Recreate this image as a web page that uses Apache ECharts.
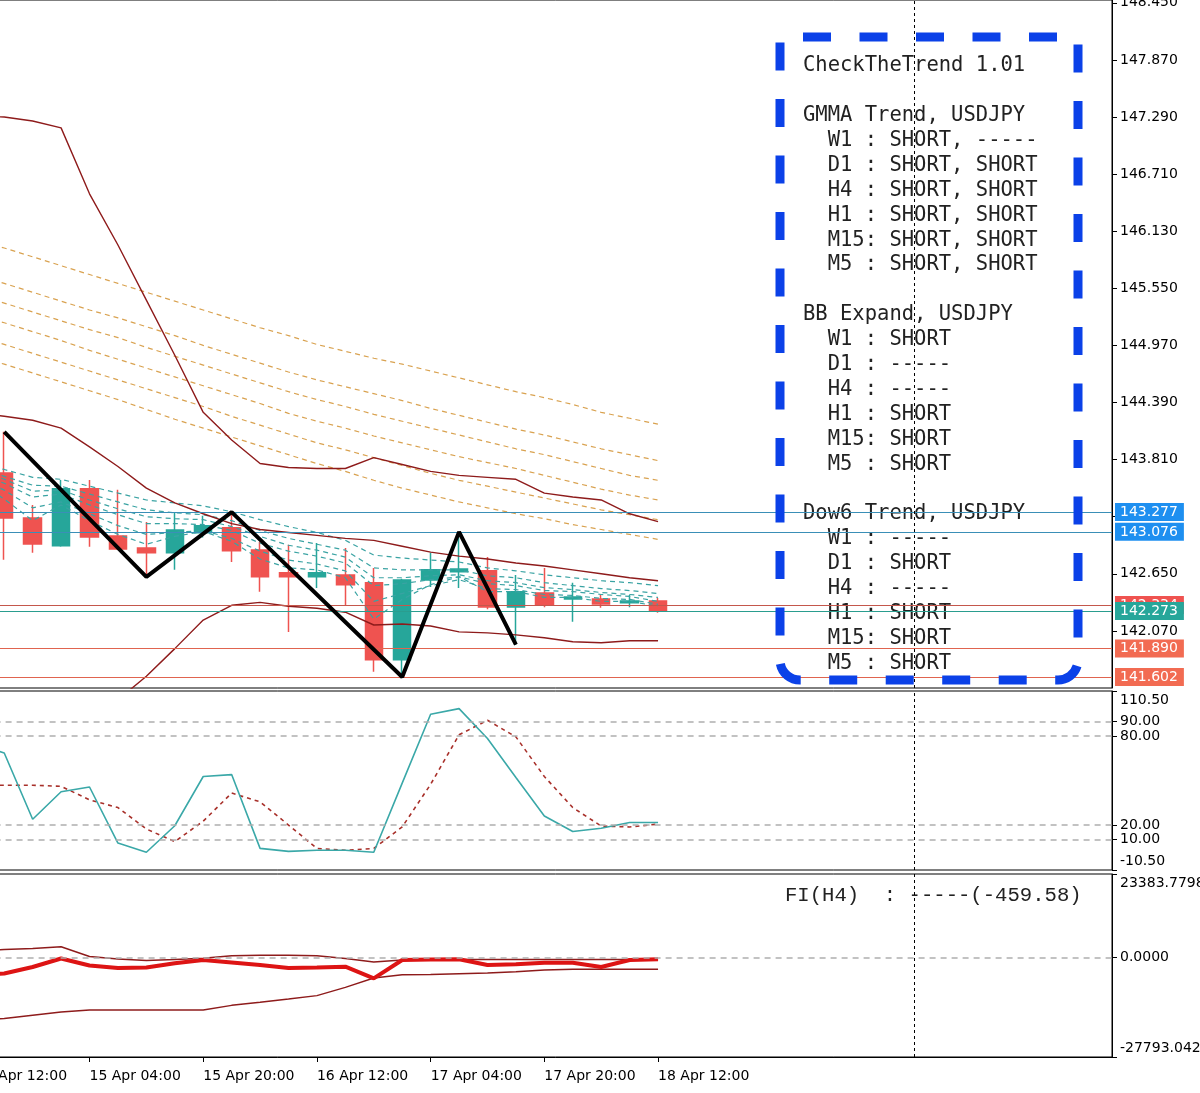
<!DOCTYPE html>
<html>
<head>
<meta charset="utf-8">
<title>USDJPY H4 - CheckTheTrend</title>
<script src="https://cdn.jsdelivr.net/npm/echarts@6/dist/echarts.min.js"></script>
<style>
  html, body { margin: 0; padding: 0; background: #fff; }
  #chart { width: 1200px; height: 1093px; }
</style>
</head>
<body>
<div id="chart"></div>
<script>
// H4 bars, index 0 is just off the left edge
const times = ['14 Apr 12:00', '14 Apr 16:00', '14 Apr 20:00', '15 Apr 00:00', '15 Apr 04:00', '15 Apr 08:00',
    '15 Apr 12:00', '15 Apr 16:00', '15 Apr 20:00', '16 Apr 00:00', '16 Apr 04:00', '16 Apr 08:00',
    '16 Apr 12:00', '16 Apr 16:00', '16 Apr 20:00', '17 Apr 00:00', '17 Apr 04:00', '17 Apr 08:00',
    '17 Apr 12:00', '17 Apr 16:00', '17 Apr 20:00', '18 Apr 00:00', '18 Apr 04:00', '18 Apr 08:00', '18 Apr 12:00'];
const labelIdx = [0, 4, 8, 12, 16, 20, 24];

// candles
const opens = [null, 143.675, 143.218, 142.934, 143.513, 143.035, 142.913, 142.863, 143.066, 143.117, 142.893, 142.660, 142.619,
    142.639, 142.558, 141.776, 142.588, 142.670, 142.680, 142.314, 142.456, 142.395, 142.395, 142.355, 142.375];
const closes = [null, 143.218, 142.954, 143.513, 143.025, 142.903, 142.863, 143.096, 143.137, 142.883, 142.619, 142.619, 142.660,
    142.538, 141.776, 142.588, 142.690, 142.700, 142.314, 142.467, 142.334, 142.415, 142.344, 142.375, 142.273];
const lows = [null, 142.792, 142.863, 142.924, 142.924, 142.893, 142.619, 142.690, 143.020, 142.771, 142.467, 142.060, 142.507,
    142.334, 141.654, 141.602, 142.517, 142.507, 142.290, 141.930, 142.310, 142.162, 142.304, 142.310, 142.255];
const highs = [null, 144.092, 143.350, 143.604, 143.604, 143.503, 143.177, 143.269, 143.240, 143.277, 142.974, 142.944, 142.964,
    142.913, 142.710, 142.600, 142.863, 143.076, 142.822, 142.639, 142.710, 142.558, 142.436, 142.436, 142.405];

// bollinger bands
const bbUpper = [147.30, 147.29, 147.25, 147.18, 146.51, 145.99, 145.43, 144.87, 144.29, 144.01, 143.77, 143.73, 143.72,
    143.72, 143.83, 143.76, 143.69, 143.65, 143.63, 143.61, 143.47, 143.43, 143.40, 143.26, 143.18];
const bbMid = [144.29, 144.25, 144.21, 144.13, 143.94, 143.74, 143.52, 143.37, 143.26, 143.16, 143.10, 143.07, 143.04,
    143.01, 142.99, 142.93, 142.87, 142.83, 142.80, 142.76, 142.73, 142.69, 142.65, 142.61, 142.58];
const bbLower = [141.29, 141.24, 141.19, 141.09, 141.25, 141.37, 141.61, 141.89, 142.18, 142.33, 142.36, 142.32, 142.30,
    142.26, 142.13, 142.14, 142.12, 142.06, 142.05, 142.03, 142.00, 141.96, 141.95, 141.97, 141.97];

// GMMA long group
const gmmaL1 = [146.04, 145.96, 145.87, 145.78, 145.69, 145.60, 145.51, 145.42, 145.33, 145.24, 145.15, 145.07, 144.98,
    144.91, 144.84, 144.78, 144.71, 144.64, 144.57, 144.50, 144.44, 144.37, 144.29, 144.23, 144.17];
const gmmaL2 = [145.69, 145.60, 145.51, 145.42, 145.33, 145.25, 145.16, 145.07, 144.97, 144.88, 144.79, 144.70, 144.62,
    144.55, 144.48, 144.41, 144.33, 144.26, 144.19, 144.12, 144.06, 143.99, 143.92, 143.86, 143.80];
const gmmaL3 = [145.48, 145.40, 145.31, 145.22, 145.13, 145.05, 144.95, 144.86, 144.77, 144.68, 144.59, 144.50, 144.42,
    144.35, 144.27, 144.20, 144.13, 144.06, 143.99, 143.92, 143.86, 143.79, 143.72, 143.65, 143.60];
const gmmaL4 = [145.28, 145.20, 145.11, 145.02, 144.92, 144.83, 144.74, 144.65, 144.56, 144.47, 144.38, 144.28, 144.20,
    144.13, 144.05, 143.98, 143.91, 143.84, 143.78, 143.72, 143.65, 143.58, 143.51, 143.45, 143.40];
const gmmaL5 = [145.07, 144.98, 144.89, 144.80, 144.71, 144.62, 144.53, 144.44, 144.35, 144.25, 144.16, 144.07, 143.98,
    143.91, 143.83, 143.75, 143.67, 143.60, 143.54, 143.48, 143.42, 143.36, 143.30, 143.25, 143.20];
const gmmaL6 = [144.86, 144.78, 144.69, 144.60, 144.51, 144.42, 144.32, 144.22, 144.13, 144.04, 143.95, 143.86, 143.77,
    143.69, 143.60, 143.52, 143.45, 143.38, 143.32, 143.26, 143.21, 143.15, 143.10, 143.05, 143.00];

// GMMA short group
const gmmaS1 = [143.60, 143.41, 143.19, 143.35, 143.19, 143.05, 142.95, 143.03, 143.08, 142.98, 142.80, 142.71, 142.69,
    142.61, 142.19, 142.39, 142.54, 142.62, 142.47, 142.47, 142.41, 142.41, 142.37, 142.37, 142.32];
const gmmaS2 = [143.63, 143.50, 143.32, 143.38, 143.26, 143.14, 143.05, 143.07, 143.09, 143.01, 142.88, 142.79, 142.75,
    142.68, 142.37, 142.45, 142.53, 142.59, 142.50, 142.49, 142.44, 142.43, 142.40, 142.39, 142.34];
const gmmaS3 = [143.67, 143.57, 143.43, 143.46, 143.35, 143.25, 143.16, 143.16, 143.15, 143.09, 142.96, 142.88, 142.83,
    142.76, 142.53, 142.55, 142.59, 142.62, 142.55, 142.53, 142.48, 142.47, 142.44, 142.42, 142.37];
const gmmaS4 = [143.71, 143.61, 143.49, 143.50, 143.40, 143.31, 143.23, 143.21, 143.20, 143.13, 143.03, 142.94, 142.89,
    142.82, 142.61, 142.61, 142.63, 142.64, 142.58, 142.56, 142.51, 142.49, 142.46, 142.44, 142.41];
const gmmaS5 = [143.73, 143.64, 143.55, 143.54, 143.46, 143.38, 143.30, 143.27, 143.25, 143.19, 143.09, 143.01, 142.95,
    142.89, 142.71, 142.69, 142.69, 142.69, 142.63, 142.61, 142.56, 142.53, 142.50, 142.48, 142.45];
const gmmaS6 = [143.76, 143.71, 143.63, 143.61, 143.54, 143.47, 143.40, 143.37, 143.34, 143.28, 143.20, 143.13, 143.07,
    142.99, 142.84, 142.81, 142.79, 142.77, 142.71, 142.68, 142.64, 142.61, 142.58, 142.56, 142.53];

// zigzag turning points
const zzIdx = [1, 6, 9, 15, 17, 19];
const zzVal = [144.092, 142.619, 143.277, 141.602, 143.076, 141.930];

// horizontal price lines (zigzag levels, ask, bid)
const priceLevels = [143.277, 143.076, 142.334, 142.273, 141.890, 141.602];

// stochastic
const stochMain = [75, 68.6, 23.8, 42.4, 45.6, 7.7, 1.5, 19.4, 52.7, 54.0, 4.1, 2.1, 2.8, 2.8, 1.5, 48.2, 94.8, 98.6,
    78.4, 52.0, 26.0, 15.5, 17.7, 21.6, 21.6];
const stochSignal = [46.8, 46.8, 46.8, 46.1, 36.9, 31.7, 17.2, 8.7, 22.5, 41.5, 35.6, 19.9, 4.1, 2.8, 4.1, 18.6, 47.4,
    80.9, 90.7, 79.5, 52.7, 31.7, 19.2, 18.6, 20.5];
const stochLevels = [90, 80, 20, 10];
const stochMin = -10.5, stochMax = 110.5;

// force index
const fiMain = [-4866, -4447, -2629, -252, -2209, -2908, -2769, -1594, -671, -1370, -2069, -2908, -2769, -2545, -5789,
    -671, -531, -475, -2069, -1874, -1426, -1426, -2629, -671, -459.58];
const fiUpper = [1846, 2265, 2545, 3048, 308, -392, -811, -531, -196, 531, 671, 643, 531, -252, -1231, -671, -531, -531,
    -531, -531, -531, -531, -531, -531, -531];
const fiLower = [-17451, -17031, -16108, -15213, -14654, -14654, -14654, -14654, -14654, -13340, -12473, -11578, -10627,
    -8306, -5705, -4810, -4726, -4530, -4307, -3971, -3468, -3272, -3272, -3272, -3272];
const fiMin = -27793.0421, fiMax = 23383.7798;

const priceMin = 141.49, priceMax = 148.479, priceStep = 0.58;
const xMin = -0.5, xMax = 39.97;
const crossX = 33;

const boxLines = [
    'CheckTheTrend 1.01', '',
    'GMMA Trend, USDJPY', '  W1 : SHORT, -----', '  D1 : SHORT, SHORT', '  H4 : SHORT, SHORT',
    '  H1 : SHORT, SHORT', '  M15: SHORT, SHORT', '  M5 : SHORT, SHORT', '',
    'BB Expand, USDJPY', '  W1 : SHORT', '  D1 : -----', '  H4 : -----', '  H1 : SHORT', '  M15: SHORT', '  M5 : SHORT', '',
    'Dow6 Trend, USDJPY', '  W1 : -----', '  D1 : SHORT', '  H4 : -----', '  H1 : SHORT', '  M15: SHORT', '  M5 : SHORT'
];

function pairs(arr) {
    let out = [];
    arr.forEach(function (v, i) { if (v != null) out.push([i, v]); });
    return out;
}

let candleData = [];
opens.forEach(function (o, i) {
    if (o != null) candleData.push([i, o, closes[i], lows[i], highs[i]]);
});

function line(data, color, width, dash, z, xi) {
    return {
        type: 'line', xAxisIndex: xi, yAxisIndex: xi, data: pairs(data), symbol: 'none', silent: true, z: z,
        lineStyle: {color: color, width: width, type: dash || 'solid'}
    };
}

function xAxisFor(gi) {
    return {
        type: 'value', gridIndex: gi, min: xMin, max: xMax, show: gi === 2,
        splitLine: {show: false},
        axisLine: {show: true, onZero: false, lineStyle: {color: '#000', width: 1}},
        axisTick: {show: true, customValues: labelIdx, length: 5, lineStyle: {color: '#000'}},
        axisLabel: {
            show: true, customValues: labelIdx, align: 'left', margin: 12, fontSize: 14, color: '#000',
            formatter: function (v) { return times[Math.round(v)]; }
        }
    };
}

const crossLine = {xAxis: crossX, lineStyle: {color: '#000', type: [3, 3], width: 1}, label: {show: false}};
const levelColors = ['#3A8FB7', '#3A8FB7', '#C4574C', '#2A9D8F', '#E0644F', '#E0644F'];
const tagColors = ['#1E8FF0', '#1E8FF0', '#EF5350', '#26A69A', '#F26B52', '#F26B52'];

let priceMarks = priceLevels.map(function (v, k) {
    return {
        yAxis: v,
        lineStyle: {color: levelColors[k], type: 'solid', width: 1.2},
        label: {
            show: true, position: 'end', distance: 3, formatter: v.toFixed(3),
            backgroundColor: tagColors[k], color: '#fff', padding: [2, 6, 2, 5], fontSize: 14
        }
    };
});
priceMarks.push(crossLine);

const grey = {color: '#AEAEAE', type: [6, 5], width: 1.5};

let series = [
    {
        type: 'candlestick', xAxisIndex: 0, yAxisIndex: 0, data: candleData, barWidth: 18, z: 2, silent: true,
        itemStyle: {color: '#26A69A', color0: '#EF5350', borderColor: '#26A69A', borderColor0: '#EF5350', borderWidth: 1.5},
        markLine: {symbol: ['none', 'none'], silent: true, animation: false, precision: 3, data: priceMarks}
    }
];
[gmmaL1, gmmaL2, gmmaL3, gmmaL4, gmmaL5, gmmaL6].forEach(function (d) {
    series.push(line(d, '#D9A250', 1.2, [5, 4], 3, 0));
});
[gmmaS1, gmmaS2, gmmaS3, gmmaS4, gmmaS5, gmmaS6].forEach(function (d) {
    series.push(line(d, '#3AA3A3', 1.2, [5, 4], 3, 0));
});
[bbUpper, bbMid, bbLower].forEach(function (d) {
    series.push(line(d, '#8E1B1B', 1.4, 'solid', 4, 0));
});
series.push({
    type: 'line', xAxisIndex: 0, yAxisIndex: 0, symbol: 'none', silent: true, z: 6,
    data: zzIdx.map(function (i, k) { return [i, zzVal[k]]; }),
    lineStyle: {color: '#000', width: 4}
});

// stochastic panel
let stoch = line(stochMain, '#3AA8A8', 1.6, 'solid', 4, 1);
stoch.markLine = {
    symbol: ['none', 'none'], silent: true, animation: false,
    data: stochLevels.map(function (v) { return {yAxis: v, lineStyle: grey, label: {show: false}}; }).concat([crossLine])
};
series.push(line(stochSignal, '#A8302A', 1.6, [4, 4], 3, 1));
series.push(stoch);

// force index panel
series.push(line(fiUpper, '#8E1B1B', 1.4, 'solid', 3, 2));
series.push(line(fiLower, '#8E1B1B', 1.4, 'solid', 3, 2));
let fi = line(fiMain, '#DD1414', 4, 'solid', 4, 2);
fi.markLine = {
    symbol: ['none', 'none'], silent: true, animation: false,
    data: [{yAxis: 0, lineStyle: grey, label: {show: false}}, crossLine]
};
series.push(fi);

const gridBase = {left: -38.4, right: 88, show: true, borderColor: '#000', borderWidth: 1, outerBoundsMode: 'none'};

const option = {
    animation: false,
    backgroundColor: '#fff',
    textStyle: {fontFamily: 'DejaVu Sans'},
    grid: [
        Object.assign({top: 0, height: 688}, gridBase),
        Object.assign({top: 691, height: 179}, gridBase),
        Object.assign({top: 874, height: 183}, gridBase)
    ],
    xAxis: [xAxisFor(0), xAxisFor(1), xAxisFor(2)],
    yAxis: [
        {
            type: 'value', gridIndex: 0, position: 'right', min: priceMin, max: priceMax, interval: priceStep,
            splitLine: {show: false},
            axisLine: {show: true, onZero: false, lineStyle: {color: '#000'}},
            axisTick: {show: true, length: 5, lineStyle: {color: '#000'}},
            axisLabel: {
                showMinLabel: false, showMaxLabel: false, fontSize: 14, color: '#000', margin: 8,
                formatter: function (v) { return v.toFixed(3); }
            }
        },
        {
            type: 'value', gridIndex: 1, position: 'right', min: stochMin, max: stochMax,
            splitLine: {show: false},
            axisLine: {show: true, onZero: false, lineStyle: {color: '#000'}},
            axisTick: {show: true, length: 5, customValues: [stochMin, 10, 20, 80, 90, stochMax], lineStyle: {color: '#000'}},
            axisLabel: {
                customValues: [stochMin, 10, 20, 80, 90, stochMax], fontSize: 14, color: '#000', margin: 8, lineHeight: 18,
                formatter: function (v) {
                    if (v === stochMax) return '\n' + v.toFixed(2);
                    if (v === stochMin) return v.toFixed(2) + '\n';
                    return v.toFixed(2);
                }
            }
        },
        {
            type: 'value', gridIndex: 2, position: 'right', min: fiMin, max: fiMax,
            splitLine: {show: false},
            axisLine: {show: true, onZero: false, lineStyle: {color: '#000'}},
            axisTick: {show: true, length: 5, customValues: [fiMin, 0, fiMax], lineStyle: {color: '#000'}},
            axisLabel: {
                customValues: [fiMin, 0, fiMax], fontSize: 14, color: '#000', margin: 8, lineHeight: 18,
                formatter: function (v) {
                    if (v === fiMax) return '\n' + v.toFixed(4);
                    if (v === fiMin) return v.toFixed(4) + '\n';
                    return v.toFixed(4);
                }
            }
        }
    ],
    graphic: [
        {
            type: 'text', x: 803, y: 53.5, z: 1, silent: true,
            style: {text: boxLines.join('\n'), font: '20.5px "DejaVu Sans Mono"', fill: '#222', lineHeight: 24.9}
        },
        {
            type: 'rect', z: 50, silent: true,
            shape: {x: 780, y: 37, width: 298, height: 643, r: [0, 0, 20, 20]},
            style: {fill: 'none', stroke: '#0B41E8', lineWidth: 9, lineDash: [28, 28.5], lineDashOffset: 33.5}
        },
        {
            type: 'text', x: 785, y: 885, z: 1, silent: true,
            style: {
                text: 'FI(H4)  : -----(' + fiMain[fiMain.length - 1].toFixed(2) + ')',
                font: '20.6px "Liberation Mono"', fill: '#222'
            }
        }
    ],
    series: series
};

let myChart = echarts.init(document.getElementById('chart'));
myChart.setOption(option);
</script>
</body>
</html>
